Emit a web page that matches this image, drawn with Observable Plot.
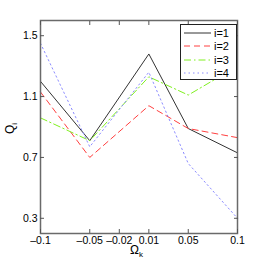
<!DOCTYPE html>
<html><head><meta charset="utf-8">
<script src="https://cdn.jsdelivr.net/npm/d3@7"></script>
<script src="https://cdn.jsdelivr.net/npm/@observablehq/plot@0.6"></script>
<style>
body{margin:0;background:#fff;font-family:"Liberation Sans",Arial,sans-serif;}
#wrap{position:relative;width:263px;height:263px;overflow:hidden;}
.lab{position:absolute;font-size:12px;line-height:12px;color:#000;white-space:nowrap;}
.lab sub{font-size:8px;}
#legend{position:absolute;left:180px;top:24px;width:57px;height:56px;border:1px solid #222;background:#fff;box-sizing:border-box;font-size:11px;padding-top:1px;}
#legend div{display:flex;align-items:center;height:13.5px;margin-left:3px;}
#legend div span{margin-left:3px;}
</style></head>
<body><div id="wrap"></div>
<script>
const omega = [-0.1, -0.05, 0.01, 0.05, 0.1];
const q1 = [1.20, 0.81, 1.38, 0.89, 0.73];
const q2 = [1.13, 0.70, 1.04, 0.89, 0.83];
const q3 = [0.96, 0.81, 1.23, 1.11, 1.30];
const q4 = [1.45, 0.77, 1.26, 0.66, 0.30];
const seriesNames = ["i=1", "i=2", "i=3", "i=4"];
const xTicks = [-0.1, -0.05, -0.02, 0.01, 0.05, 0.1];
const yTicks = [0.3, 0.7, 1.1, 1.5];

const colors = ["#333333", "#ff4040", "#80f020", "#8c8cff"];
const dashes = [null, "6,4", "7,3,1.5,3", "1.5,3"];
const all = [q1, q2, q3, q4];
const rows = [];
all.forEach((s, k) => s.forEach((v, j) => rows.push({x: omega[j], y: v, s: seriesNames[k]})));

const fmt = d => d < 0 ? "\u2013" + String(-d) : String(d);
const chart = Plot.plot({
  width: 263, height: 263,
  marginLeft: 40, marginRight: 26, marginTop: 20, marginBottom: 30,
  style: {fontFamily: "Liberation Sans, Arial, sans-serif", fontSize: "10.5px", color: "#000"},
  x: {domain: [-0.1, 0.1]},
  y: {domain: [0.2, 1.6]},
  marks: [
    ...seriesNames.map((n, k) => Plot.line(rows.filter(r => r.s === n), {
      x: "x", y: "y", stroke: colors[k], strokeWidth: 1, strokeDasharray: dashes[k]
    })),
    Plot.frame({stroke: "#6a6a6a", strokeWidth: 1.5}),
    Plot.axisX(xTicks, {anchor: "bottom", tickSize: -4, tickFormat: fmt, tickPadding: 7, label: null, stroke: "#555"}),
    Plot.axisX(xTicks, {anchor: "top", tickSize: -4, tickFormat: () => "", label: null, stroke: "#555"}),
    Plot.axisY(yTicks, {anchor: "left", tickSize: -4, tickFormat: d => d.toFixed(1), tickPadding: 7, label: null, stroke: "#555"}),
    Plot.axisY(yTicks, {anchor: "right", tickSize: -4, tickFormat: () => "", label: null, stroke: "#555"})
  ]
});
const wrap = document.getElementById("wrap");
wrap.appendChild(chart);

const xl = document.createElement("div");
xl.className = "lab";
xl.style.left = "130px"; xl.style.top = "244px";
xl.innerHTML = "\u03A9<sub>k</sub>";
wrap.appendChild(xl);

const yl = document.createElement("div");
yl.className = "lab";
yl.style.left = "4px"; yl.style.top = "134px";
yl.style.transformOrigin = "0 0";
yl.style.transform = "rotate(-90deg)";
yl.innerHTML = "Q<sub>i</sub>";
wrap.appendChild(yl);

const lg = document.createElement("div");
lg.id = "legend";
seriesNames.forEach((n, k) => {
  const d = document.createElement("div");
  d.innerHTML = `<svg width="27" height="6"><line x1="0" y1="3" x2="27" y2="3" stroke="${colors[k]}" stroke-width="1" ${dashes[k] ? `stroke-dasharray="${dashes[k]}"` : ""}/></svg><span>${n}</span>`;
  lg.appendChild(d);
});
wrap.appendChild(lg);
</script></body></html>
